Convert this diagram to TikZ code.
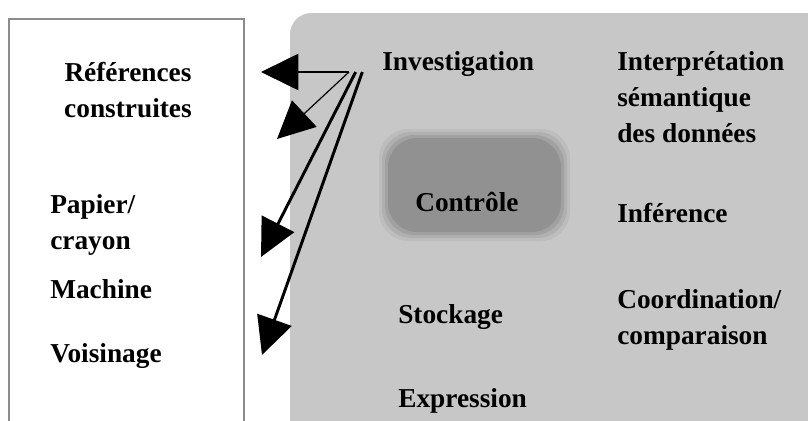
\documentclass[tikz,border=0pt]{standalone}
\usepackage{fontspec}
\setmainfont{Liberation Serif}
\usetikzlibrary{arrows.meta}

\begin{document}
\begin{tikzpicture}[
  x=0.75pt, y=-0.75pt,
  >={Triangle[length=28pt, width=27pt]},
  lbl/.style={font=\fontsize{20.5}{27}\selectfont\bfseries, inner sep=0pt,
              align=left, anchor=base west},
  ptr/.style={->, line width=2.2pt},
  ptrthin/.style={->, line width=0.9pt}
]
\useasboundingbox (0,0) rectangle (808,421);
\clip (0,0) rectangle (808,421);

%% ---- backgrounds ----
\fill[black!22, rounded corners=16pt] (290,13) rectangle (840,450);
%% soft-edged blob behind Contrôle
\foreach \d/\c in {8/26, 5/31, 2/37, -1/43}
  \fill[black!\c, rounded corners=22pt] (387-\d,137-\d) rectangle (562+\d,233+\d);
\draw[black!45, line width=2.2pt] (9,450) -- (9,19) -- (244,19) -- (244,450);

%% ---- nodes ----
\node[lbl, align=center, anchor=base] (refs) at (128,117) {Références\\construites};
\node[lbl] (papier) at (50,249) {Papier/\\crayon};
\node[lbl] (machine) at (50,298) {Machine};
\node[lbl] (voisin) at (50,362) {Voisinage};

\node[lbl] (invest) at (382,70) {Investigation};
\node[lbl] (ctrl) at (415,211) {Contrôle};
\node[lbl] (stock) at (398,323) {Stockage};
\node[lbl] (expr) at (398,407) {Expression};

\node[lbl] (interp) at (617,142) {Interprétation\\sémantique\\des données};
\node[lbl] (infer) at (617,222) {Inférence};
\node[lbl] (coord) at (617,344) {Coordination/\\comparaison};

%% ---- arrows ----
\coordinate (hub) at (349,72);
\coordinate (tipref) at (261,72);
\coordinate (tipcons) at (277,139);
\coordinate (tippap) at (261,257);
\coordinate (tipvois) at (262,355);

\draw[ptr] (hub) -- (tipref);
\draw[ptrthin] (hub) -- (tipcons);
\draw[ptr] ([xshift=5pt]hub) -- (tippap);
\draw[ptr] ([xshift=10pt]hub) -- (tipvois);

\end{tikzpicture}
\end{document}
